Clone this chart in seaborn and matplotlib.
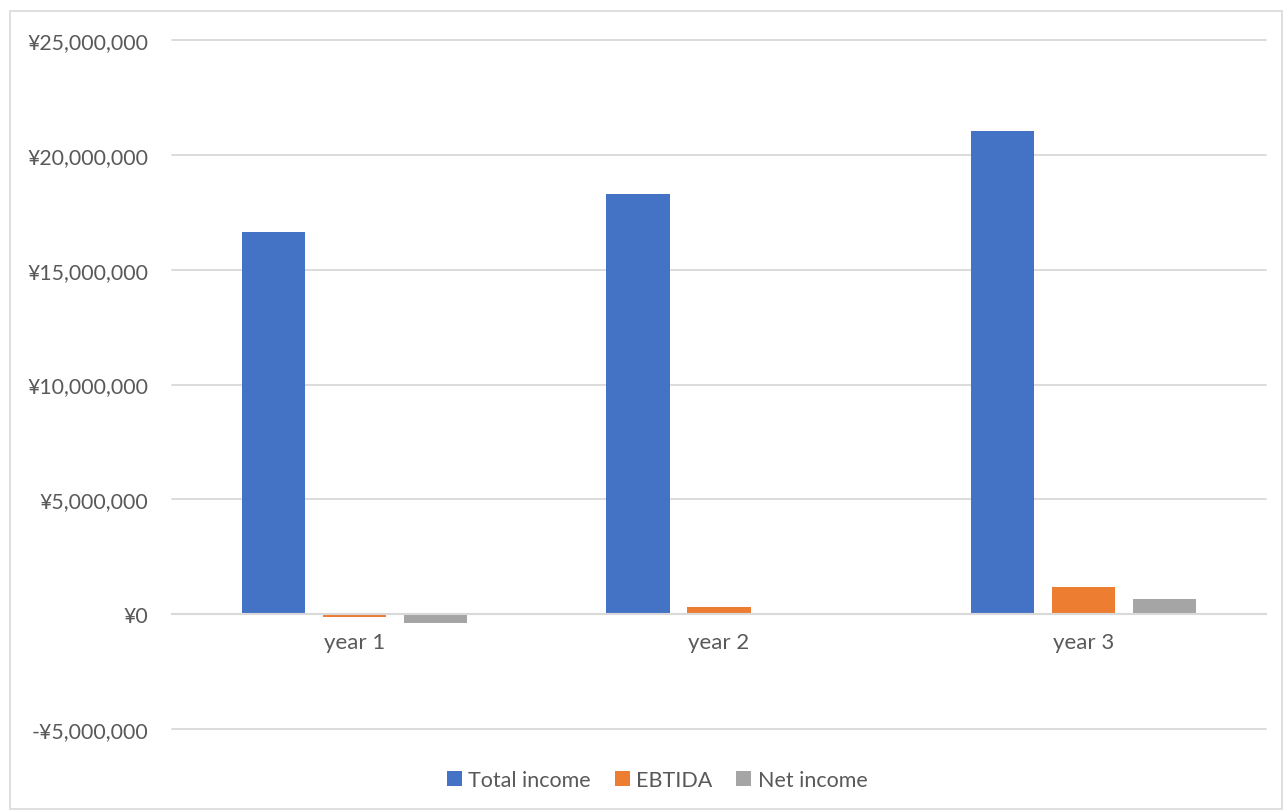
import matplotlib
matplotlib.use("Agg")
import matplotlib.pyplot as plt
import matplotlib.ticker as mticker
from matplotlib.patches import Rectangle, Patch
import seaborn as sns
import pandas as pd

categories = ["year 1", "year 2", "year 3"]
series_names = ["Total income", "EBTIDA", "Net income"]
total_income = [16_620_000, 18_280_000, 21_020_000]
ebtida = [-110_000, 320_000, 1_170_000]
net_income = [-400_000, 0, 680_000]
colors = ["#4472C4", "#ED7D31", "#A5A5A5"]
y_ticks = [-5_000_000, 0, 5_000_000, 10_000_000, 15_000_000, 20_000_000, 25_000_000]

rows = []
for name, vals in zip(series_names, [total_income, ebtida, net_income]):
    for c, v in zip(categories, vals):
        rows.append({"year": c, "series": name, "value": v})
df = pd.DataFrame(rows)

sns.set_theme(style="white")
plt.rcParams["font.family"] = ["Lato", "DejaVu Sans"]

fig = plt.figure(figsize=(12.84, 8.12), dpi=100)
ax = fig.add_axes([172 / 1284, 82 / 812, (1266 - 172) / 1284, (730 - 41) / 812])

sns.barplot(data=df, x="year", y="value", hue="series", order=categories,
            hue_order=series_names, palette=colors, width=0.666, gap=0.22,
            ax=ax, legend=False, saturation=1, edgecolor="none")

ax.set_ylim(-5_000_000, 25_000_000)
ax.set_xlim(-0.5, 2.5)
ax.set_yticks(y_ticks)
ax.yaxis.set_major_formatter(mticker.FuncFormatter(
    lambda v, p: ("-¥{:,.0f}".format(-v) if v < 0 else "¥{:,.0f}".format(v))))
ax.grid(axis="y", color="#d9d9d9", linewidth=1.3, zorder=0)
for gl in ax.get_ygridlines():
    gl.set_clip_on(False)
ax.set_axisbelow(True)
for s in ["top", "right", "left"]:
    ax.spines[s].set_visible(False)
ax.spines["bottom"].set_position(("data", 0))
ax.spines["bottom"].set_color("#d9d9d9")
ax.spines["bottom"].set_linewidth(1.5)
ax.tick_params(axis="y", length=0, pad=17, labelsize=15.3, labelcolor="#595959")
ax.tick_params(axis="x", length=0, pad=13, labelsize=16, labelcolor="#595959")
ax.set_xlabel("")
ax.set_ylabel("")

handles = [Patch(facecolor=c, edgecolor="none") for c in colors]
fig.legend(handles, series_names, loc="center", bbox_to_anchor=(657 / 1284, 1 - 781 / 812),
           ncol=3, frameon=False, fontsize=15.5, labelcolor="#595959",
           handlelength=0.7, handleheight=0.7, handletextpad=0.3, columnspacing=1.1)

fig.patches.append(Rectangle((10 / 1284, 0.002), (1282 - 10) / 1284, (812 - 12) / 812 - 0.002,
                             transform=fig.transFigure, fill=False, edgecolor="#d9d9d9",
                             linewidth=1.2))

fig.savefig("out.png", dpi=100, facecolor="white")
